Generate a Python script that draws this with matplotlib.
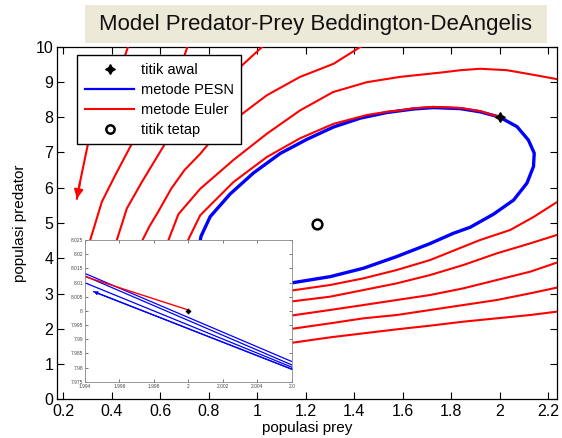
import matplotlib
matplotlib.use("Agg")
import matplotlib.pyplot as plt
from matplotlib.patches import Rectangle
from matplotlib.lines import Line2D

plt.rcParams['font.family'] = ['Liberation Sans Narrow', 'Liberation Sans', 'DejaVu Sans']

# ---------------- data ----------------
title_text = "Model Predator-Prey Beddington-DeAngelis"
x_label = "populasi prey"
y_label = "populasi predator"
legend_labels = ["titik awal", "metode PESN", "metode Euler", "titik tetap"]

x_ticks = [0.2, 0.4, 0.6, 0.8, 1.0, 1.2, 1.4, 1.6, 1.8, 2.0, 2.2]
x_tick_labels = ["0.2", "0.4", "0.6", "0.8", "1", "1.2", "1.4", "1.6", "1.8", "2", "2.2"]
y_ticks = [0, 1, 2, 3, 4, 5, 6, 7, 8, 9, 10]

start_point = (2.0, 8.0)      # titik awal
fixed_point = (1.246, 4.98)   # titik tetap

# PESN trajectory (blue)
pesn_x = [0.76, 0.768, 0.806, 0.888, 0.985, 1.095, 1.205, 1.315, 1.425, 1.535, 1.645, 1.727,
          1.838, 1.920, 2.0, 2.072, 2.119, 2.143, 2.140, 2.113, 2.058, 1.975, 1.879, 1.810,
          1.714, 1.576, 1.439, 1.301, 1.157, 1.10]
pesn_y = [4.30, 4.62, 5.18, 5.82, 6.42, 6.97, 7.37, 7.72, 7.97, 8.13, 8.23, 8.27,
          8.24, 8.15, 8.0, 7.73, 7.35, 6.98, 6.60, 6.13, 5.65, 5.25, 4.88, 4.71,
          4.42, 4.05, 3.72, 3.48, 3.32, 3.26]

# Euler trajectory, visible pieces (red)
euler_f_x = [2.0, 1.92, 1.838, 1.727, 1.645, 1.59, 1.535, 1.453, 1.315, 1.177, 1.04, 0.902, 0.765, 0.715, 0.70]
euler_f_y = [8.0, 8.17, 8.26, 8.29, 8.25, 8.19, 8.15, 8.06, 7.81, 7.40, 6.87, 6.16, 5.22, 4.52, 4.25]

euler_e_x = [2.25, 2.13, 2.03, 1.92, 1.84, 1.755, 1.59, 1.453, 1.313, 1.177, 1.04, 0.901, 0.765, 0.675, 0.634, 0.62]
euler_e_y = [9.06, 9.21, 9.33, 9.37, 9.33, 9.26, 9.14, 8.99, 8.71, 8.19, 7.53, 6.78, 5.97, 5.25, 4.52, 4.25]

euler_d_x = [1.44, 1.315, 1.177, 1.040, 0.930, 0.806, 0.765, 0.70, 0.645, 0.59, 0.555, 0.527, 0.515]
euler_d_y = [10.05, 9.51, 9.14, 8.62, 8.05, 7.30, 6.96, 6.50, 5.97, 5.30, 4.90, 4.52, 4.25]

euler_c_x = [1.03, 0.930, 0.78, 0.620, 0.524, 0.462, 0.421, 0.41]
euler_c_y = [10.05, 9.42, 8.40, 7.25, 6.16, 5.41, 4.52, 4.25]

euler_b_x = [0.715, 0.70, 0.60, 0.483, 0.414, 0.359, 0.311, 0.30]
euler_b_y = [10.05, 9.75, 8.55, 7.25, 6.35, 5.60, 4.52, 4.25]

euler_a_x = [0.47, 0.455, 0.38, 0.302, 0.269, 0.256]
euler_a_y = [10.05, 9.75, 8.50, 7.25, 6.16, 5.69]

euler_r1_x = [1.10, 1.157, 1.301, 1.439, 1.576, 1.714, 1.851, 1.920, 2.044, 2.14, 2.25]
euler_r1_y = [3.05, 3.102, 3.244, 3.433, 3.669, 3.952, 4.330, 4.519, 4.802, 5.17, 5.65]
euler_r2_x = [1.10, 1.157, 1.301, 1.439, 1.576, 1.714, 1.851, 1.989, 2.127, 2.25]
euler_r2_y = [2.74, 2.791, 2.913, 3.102, 3.291, 3.527, 3.811, 4.141, 4.424, 4.69]
euler_r3_x = [1.10, 1.157, 1.301, 1.439, 1.576, 1.714, 1.851, 1.989, 2.127, 2.25]
euler_r3_y = [2.34, 2.394, 2.536, 2.677, 2.819, 2.961, 3.150, 3.386, 3.622, 3.91]
euler_r4_x = [1.10, 1.157, 1.301, 1.439, 1.576, 1.714, 1.851, 1.989, 2.127, 2.25]
euler_r4_y = [1.96, 2.016, 2.158, 2.300, 2.394, 2.536, 2.677, 2.819, 3.008, 3.19]
euler_r5_x = [1.10, 1.157, 1.301, 1.439, 1.576, 1.714, 1.851, 1.989, 2.127, 2.25]
euler_r5_y = [1.57, 1.620, 1.761, 1.875, 1.988, 2.092, 2.205, 2.300, 2.394, 2.50]

# inset (zoom around the start point)
inset_xlim = (1.994, 2.006)
inset_ylim = (7.975, 8.025)
inset_x_ticks = [1.994, 1.996, 1.998, 2.0, 2.002, 2.004, 2.006]
inset_x_tick_labels = ["1.994", "1.996", "1.998", "2", "2.002", "2.004", "2.0"]
inset_y_ticks = [7.975, 7.98, 7.985, 7.99, 7.995, 8.0, 8.005, 8.01, 8.015, 8.02, 8.025]
inset_y_tick_labels = ["7.975", "7.98", "7.985", "7.99", "7.995", "8", "8.005", "8.01", "8.015", "8.02", "8.025"]

inset_euler_x = [1.994, 2.0]
inset_euler_y = [8.0121, 8.0003]
inset_pesn1_x = [1.994, 2.006]
inset_pesn1_y = [8.0132, 7.9821]
inset_pesn2_x = [1.994, 2.006]
inset_pesn2_y = [8.0123, 7.9809]
inset_pesn3_x = [1.994, 2.006]
inset_pesn3_y = [8.0099, 7.9801]
inset_pesn4_x = [1.9945, 2.006]
inset_pesn4_y = [8.0068, 7.9794]

# ---------------- figure ----------------
fig = plt.figure(figsize=(5.62, 4.38), dpi=100)
fig.patch.set_facecolor('white')

ax = fig.add_axes([0.1023, 0.0879, 0.8888, 0.8059])
ax.set_xlim(0.176, 2.237)
ax.set_ylim(0, 10)

BLUE = '#0000ff'
RED = '#ff0000'

ax.plot(pesn_x, pesn_y, color=BLUE, lw=2.4, zorder=2, solid_capstyle='butt')
euler_pieces = [
    (euler_f_x, euler_f_y), (euler_e_x, euler_e_y), (euler_d_x, euler_d_y),
    (euler_c_x, euler_c_y), (euler_b_x, euler_b_y), (euler_a_x, euler_a_y),
    (euler_r1_x, euler_r1_y), (euler_r2_x, euler_r2_y), (euler_r3_x, euler_r3_y),
    (euler_r4_x, euler_r4_y), (euler_r5_x, euler_r5_y),
]
for ex, ey in euler_pieces:
    ax.plot(ex, ey, color=RED, lw=1.5, zorder=3)

# arrow at the end of the Euler trajectory
ax.annotate('', xy=(euler_a_x[-1], euler_a_y[-1]), xytext=(euler_a_x[-2], euler_a_y[-2]),
            arrowprops=dict(arrowstyle='-|>', color=RED, lw=1.5, mutation_scale=13,
                            shrinkA=0, shrinkB=0), zorder=3)

ax.plot([start_point[0]], [start_point[1]], linestyle='none', marker=(4, 1, 0),
        color='black', markersize=7, zorder=4)
ax.plot([fixed_point[0]], [fixed_point[1]], linestyle='none', marker='o', markerfacecolor='none',
        markeredgecolor='black', markersize=7, markeredgewidth=1.8, zorder=4)

ax.set_xticks(x_ticks)
ax.set_xticklabels(x_tick_labels)
ax.set_yticks(y_ticks)
ax.tick_params(direction='in', top=True, right=True, length=5, width=0.8,
               labelsize=11.5, pad=3, colors='black')
for s in ax.spines.values():
    s.set_linewidth(0.9)
    s.set_color('black')

ax.set_xlabel(x_label, fontsize=11, labelpad=2)
ax.set_ylabel(y_label, fontsize=11, labelpad=6)

handles = [
    Line2D([], [], linestyle='none', marker=(4, 1, 0), color='black', markersize=7),
    Line2D([], [], color=BLUE, lw=1.6),
    Line2D([], [], color=RED, lw=1.5),
    Line2D([], [], linestyle='none', marker='o', markerfacecolor='none', markeredgecolor='black',
           markersize=6, markeredgewidth=1.8),
]
leg = ax.legend(handles, legend_labels, loc='upper left', bbox_to_anchor=(0.040, 0.975),
                borderaxespad=0, fancybox=False, framealpha=1, edgecolor='black',
                prop={'family': ['Liberation Sans', 'DejaVu Sans'], 'size': 10.5},
                handlelength=3.4, handletextpad=0.45, labelspacing=0.42, borderpad=0.5)
leg.get_frame().set_linewidth(1.0)
leg.set_zorder(10)

# ---------------- inset ----------------
axi = fig.add_axes([0.1512, 0.1285, 0.3683, 0.3235], zorder=5)
axi.set_facecolor('white')
axi.set_xlim(*inset_xlim)
axi.set_ylim(*inset_ylim)
for px_, py_ in [(inset_pesn1_x, inset_pesn1_y), (inset_pesn2_x, inset_pesn2_y),
                 (inset_pesn3_x, inset_pesn3_y), (inset_pesn4_x, inset_pesn4_y)]:
    axi.plot(px_, py_, color=BLUE, lw=0.9)
axi.annotate('', xy=(inset_pesn4_x[0], inset_pesn4_y[0]), xytext=(inset_pesn4_x[1], inset_pesn4_y[1]),
             arrowprops=dict(arrowstyle='-|>', color=BLUE, lw=0.9, mutation_scale=5,
                             shrinkA=0, shrinkB=0))
axi.plot(inset_euler_x, inset_euler_y, color=RED, lw=1.0)
axi.plot([start_point[0]], [start_point[1]], linestyle='none', marker=(4, 1, 0),
         color='black', markersize=3.5)
axi.set_xticks(inset_x_ticks)
axi.set_xticklabels(inset_x_tick_labels)
axi.set_yticks(inset_y_ticks)
axi.set_yticklabels(inset_y_tick_labels)
axi.tick_params(direction='in', top=True, right=True, length=2.5, width=0.5,
                labelsize=3.5, pad=1.5, colors='#444444')
for s in axi.spines.values():
    s.set_linewidth(0.6)
    s.set_color('#888888')

# ---------------- title box ----------------
fig.patches.append(Rectangle((0.151, 0.9018), 0.822, 0.0868, transform=fig.transFigure,
                             facecolor='#ECE9D8', edgecolor='none', zorder=0))
fig.text(0.5614, 0.9315, title_text, ha='center', va='baseline', fontsize=16,
         family=['Liberation Sans', 'DejaVu Sans'], color='#111111')

fig.savefig('out.png', dpi=100)
